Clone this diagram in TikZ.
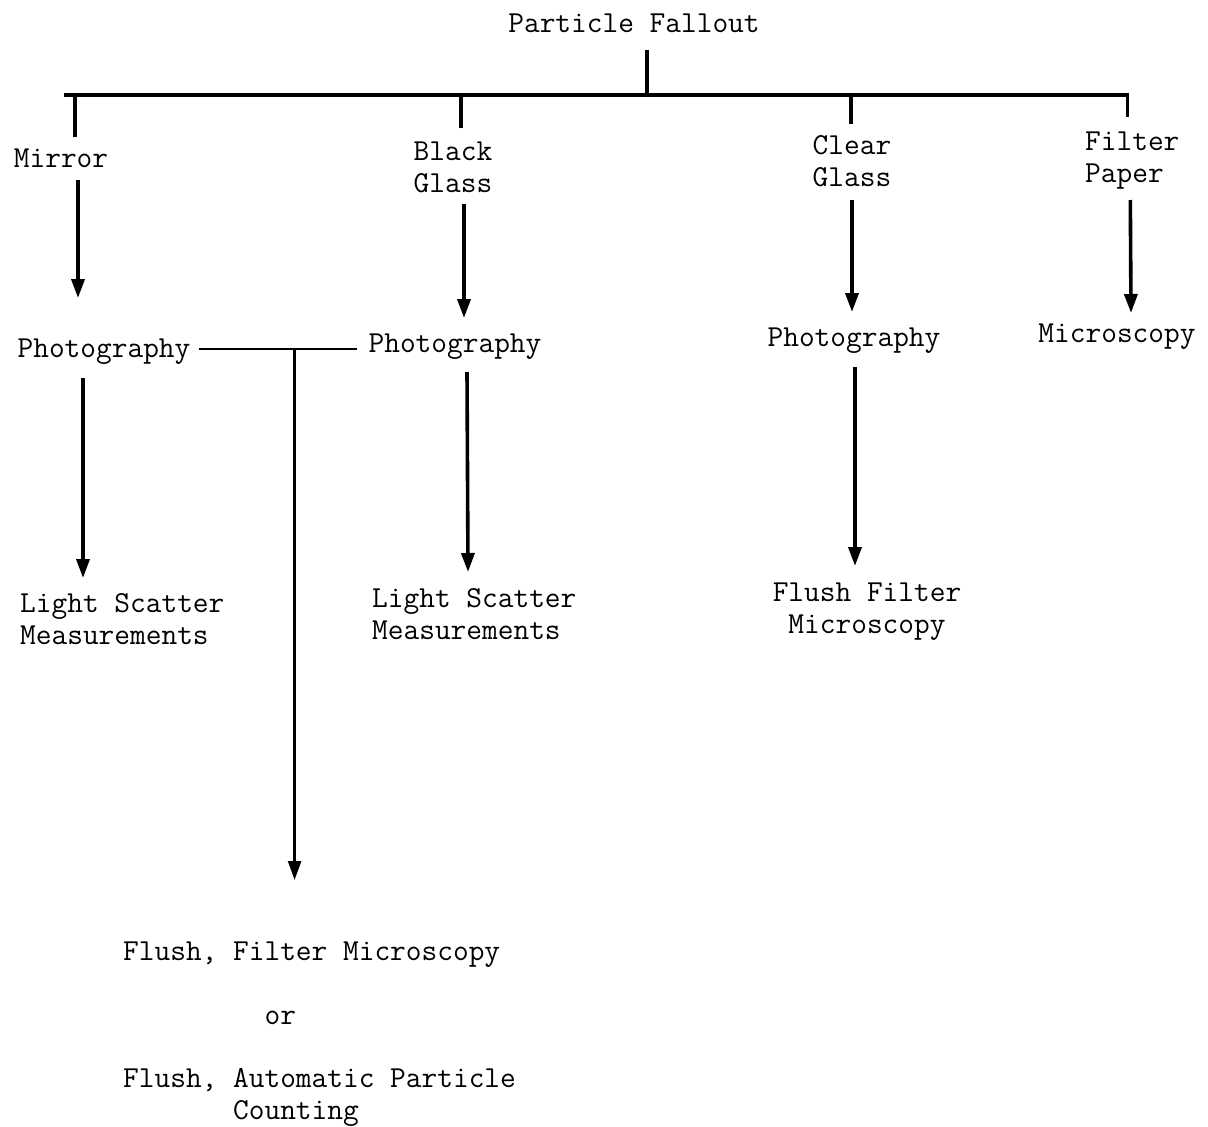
\documentclass[tikz,border=0pt]{standalone}
\usepackage{tikz}
\usetikzlibrary{arrows.meta}

\begin{document}
\begin{tikzpicture}[x=1pt,y=-1pt,
    every node/.style={inner sep=0pt,font=\ttfamily\fontsize{30.5}{32}\selectfont},
    tree/.style={line width=3.2pt},
    link/.style={line width=2.2pt},
    arr/.style={line width=3.6pt,-{Triangle[length=19pt,width=13pt]}}]
    \useasboundingbox (0,0) rectangle (1208,1127);

    % Top level
    \node[anchor=base] (fallout) at (634,32) {Particle Fallout};
    \coordinate (barL) at (64,95);

    % Collectors (base = last line)
    \node[anchor=base] (mirror) at (61,167) {Mirror};
    \node[anchor=base,align=center] (black) at (453,192) {Black\\Glass};
    \node[anchor=base,align=center] (clear) at (852,186) {Clear\\Glass};
    \node[anchor=base west,align=left] (filter) at (1085,182) {Filter\\Paper};

    % Second row
    \node[anchor=base] (photoA) at (104,357) {Photography};
    \node[anchor=base] (photoB) at (455,352) {Photography};
    \node[anchor=base] (photoC) at (854,346) {Photography};
    \node[anchor=base] (micro) at (1117,342) {Microscopy};

    % Third row
    \node[anchor=base west,align=left] (lightA) at (20,644) {Light Scatter\\Measurements};
    \node[anchor=base west,align=left] (lightB) at (372,639) {Light Scatter\\Measurements};
    \node[anchor=base,align=center] (flushC) at (867,633) {Flush Filter\\Microscopy};

    % Bottom block
    \node[anchor=base west,align=left] (flushAB) at (123,1119)
      {Flush, Filter Microscopy\\[32pt]
       \phantom{xxxxxxxxx}or\\[31pt]
       Flush, Automatic Particle\\
       \phantom{xxxxxxx}Counting};

    % Tree
    \coordinate (stem) at ([shift={(13,18)}]fallout.base);
    \coordinate (mirrorTop) at ([shift={(14,-30)}]mirror.base);
    \coordinate (blackTop) at ([shift={(8,-64)}]black.base);
    \coordinate (clearTop) at ([shift={(-1,-62)}]clear.base);
    \draw[tree] (stem) -- (stem |- barL);
    \draw[tree] ([shift={(-5,-65)}]filter.base) |- (barL);
    \draw[tree] (mirrorTop) -- (mirrorTop |- barL);
    \draw[tree] (blackTop) -- (blackTop |- barL);
    \draw[tree] (clearTop) -- (clearTop |- barL);

    % Arrows to second row
    \draw[arr] ([shift={(17,13)}]mirror.base) -- ([shift={(-26,-59)}]photoA.base);
    \draw[arr] ([shift={(11,12)}]black.base) -- ([shift={(9,-34)}]photoB.base);
    \draw[arr] ([shift={(0,14)}]clear.base) -- ([shift={(-2,-34)}]photoC.base);
    \draw[arr] ([shift={(-2,18)}]filter.base) -- ([shift={(14,-29)}]micro.base);

    % Arrows to third row
    \draw[arr] ([shift={(-21,21)}]photoA.base) -- ([shift={(63,-66)}]lightA.base west);
    \draw[arr] ([shift={(12,20)}]photoB.base) -- ([shift={(96,-67)}]lightB.base west);
    \draw[arr] ([shift={(1,21)}]photoC.base) -- ([shift={(-12,-67)}]flushC.base);

    % Joined photography branch
    \draw[link] ([shift={(8,-8)}]photoA.base east) -- ([shift={(-11,-3)}]photoB.base west);
    \coordinate (join) at ([shift={(104,-8)}]photoA.base east);
    \coordinate (flushTip) at ([shift={(0,-239)}]flushAB.base west);
    \draw[arr,line width=2.6pt] (join) -- (join |- flushTip);
\end{tikzpicture}
\end{document}
